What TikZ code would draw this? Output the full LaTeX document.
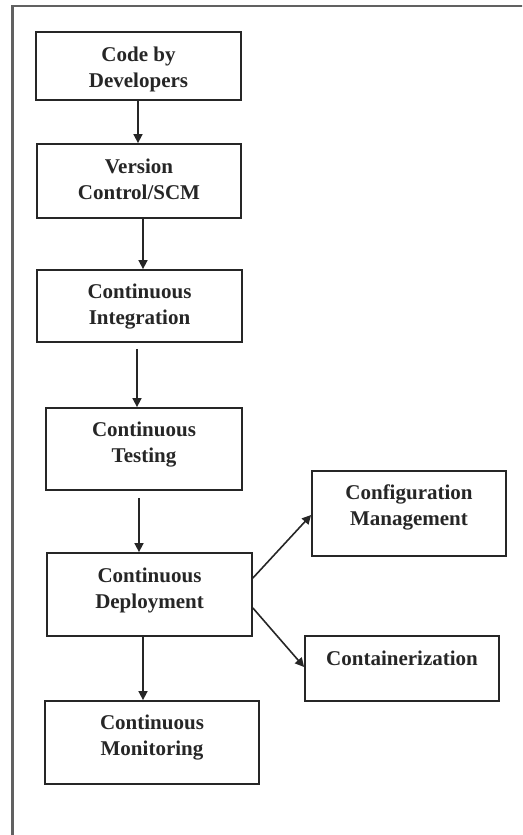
\documentclass[tikz,border=0pt]{standalone}
\usepackage{fontspec}
\setmainfont{Liberation Serif}
\usetikzlibrary{arrows.meta}
\tikzset{
  box/.style={draw=black!85, line width=1.8pt, fill=white, inner sep=0pt},
  txt/.style={font=\bfseries\fontsize{21}{26}\selectfont, text=black!85, align=center, inner sep=0pt, anchor=north},
  arr/.style={draw=black!85, line width=1.6pt, -{Triangle[length=9pt,width=9pt]}},
  frame/.style={draw=black!62, line width=2.8pt}
}
\begin{document}
\begin{tikzpicture}[x=1pt,y=-1pt]
\useasboundingbox (0,0) rectangle (522,835);
\clip (0,0) rectangle (522,835);
\draw[frame] (12.7,850) -- (12.7,6) -- (540,6);

\node[box, minimum width=205pt, minimum height=68pt] (b1) at (138.5,66) {};
\node[txt] (t1) at ([yshift=-16pt]b1.north) {Code by\\Developers};

\node[box, minimum width=204pt, minimum height=74pt] (b2) at (139,181) {};
\node[txt] (t2) at ([yshift=-16pt]b2.north) {Version\\Control/SCM};

\node[box, minimum width=205pt, minimum height=72pt] (b3) at (139.5,306) {};
\node[txt] (t3) at ([yshift=-15pt]b3.north) {Continuous\\Integration};

\node[box, minimum width=196pt, minimum height=82pt] (b4) at (144,449) {};
\node[txt] (t4) at ([yshift=-15pt]b4.north) {Continuous\\Testing};

\node[box, minimum width=205pt, minimum height=83pt] (b5) at (149.5,594.5) {};
\node[txt] (t5) at ([yshift=-16pt]b5.north) {Continuous\\Deployment};

\node[box, minimum width=214pt, minimum height=83pt] (b6) at (152,742.5) {};
\node[txt] (t6) at ([yshift=-15pt]b6.north) {Continuous\\Monitoring};

\node[box, minimum width=194pt, minimum height=85pt] (b7) at (409,513.5) {};
\node[txt] (t7) at ([yshift=-14pt]b7.north) {Configuration\\Management};

\node[box, minimum width=194pt, minimum height=65pt] (b8) at (402,668.5) {};
\node[txt] (t8) at ([yshift=-16pt]b8.north) {Containerization};

\draw[arr] ([xshift=-0.5pt]b1.south) -- ([xshift=-0.5pt]b1.south |- b2.north);
\draw[arr] ([xshift=4pt]b2.south) -- ([xshift=4pt]b2.south |- b3.north);
\draw[arr, shorten <=6pt] ([xshift=-2.5pt]b3.south) -- ([xshift=-2.5pt]b3.south |- b4.north);
\draw[arr, shorten <=7pt] ([xshift=-5pt]b4.south) -- ([xshift=-5pt]b4.south |- b5.north);
\draw[arr] ([xshift=-6.5pt]b5.south) -- ([xshift=-6.5pt]b5.south |- b6.north);
\draw[arr] ([yshift=16.5pt]b5.east) -- ([yshift=-1.5pt]b7.west);
\draw[arr] ([yshift=-13.5pt]b5.east) -- ([yshift=1.5pt]b8.west);
\end{tikzpicture}
\end{document}
